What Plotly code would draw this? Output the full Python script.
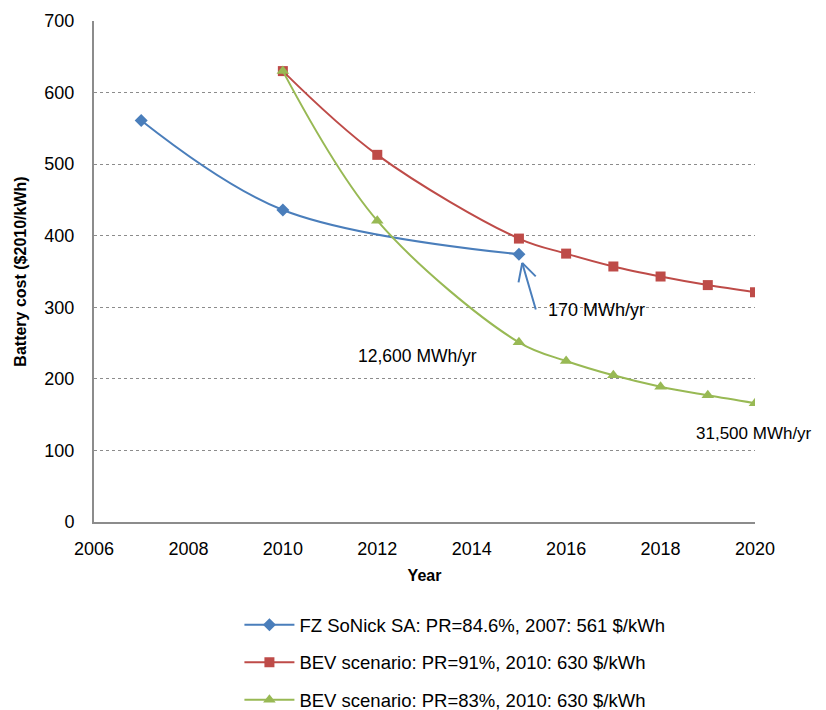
import plotly.graph_objects as go

blue_years = [2007, 2010, 2015]
blue_cost = [561, 436, 374]
red_years = [2010, 2012, 2015, 2016, 2017, 2018, 2019, 2020]
red_cost = [630, 513, 396, 375, 357, 343, 331, 321]
green_years = [2010, 2012, 2015, 2016, 2017, 2018, 2019, 2020]
green_cost = [630, 421, 251, 225, 205, 189, 177, 166]

names = ["FZ SoNick SA: PR=84.6%, 2007: 561 $/kWh",
         "BEV scenario: PR=91%, 2010: 630 $/kWh",
         "BEV scenario: PR=83%, 2010: 630 $/kWh"]
x_ticks = [2006, 2008, 2010, 2012, 2014, 2016, 2018, 2020]
y_ticks = [0, 100, 200, 300, 400, 500, 600, 700]

FONT = "Liberation Sans, Arial, sans-serif"
fig = go.Figure()
fig.add_trace(go.Scatter(x=blue_years, y=blue_cost, name=names[0], legendgroup="a",
                         mode="lines+markers", line=dict(color="#4a7ebb", width=2, shape="spline", smoothing=1),
                         marker=dict(symbol="diamond", size=10, color="#4a7ebb")))
fig.add_trace(go.Scatter(x=red_years, y=red_cost, name=names[1], legendgroup="b",
                         mode="lines+markers", line=dict(color="#be4b48", width=2, shape="spline", smoothing=1),
                         marker=dict(symbol="square", size=10, color="#be4b48")))
fig.add_trace(go.Scatter(x=green_years, y=green_cost, name=names[2], legendgroup="c",
                         mode="lines+markers", line=dict(color="#98b954", width=2, shape="spline", smoothing=1),
                         marker=dict(symbol="triangle-up", size=11, color="#98b954")))

ann = []
ann.append(dict(x=2016.65, y=296, text="170 MWh/yr", showarrow=False, font=dict(size=18, color="black")))
ann.append(dict(x=2012.85, y=232, text="12,600 MWh/yr", showarrow=False, font=dict(size=17.5, color="black")))
ann.append(dict(x=2020, y=124, xshift=-1, text="31,500 MWh/yr", showarrow=False, font=dict(size=17, color="black")))
# arrow (open V head)
tip_x, tip_y = 2015.07, 362
for axo, ayo in [(14, 48), (-4, 21), (15, 15)]:
    ann.append(dict(x=tip_x, y=tip_y, ax=axo, ay=ayo, showarrow=True, arrowhead=0,
                    arrowwidth=2, arrowcolor="#4a7ebb", text="", standoff=0, startstandoff=0))

fig.update_layout(
    width=826, height=730,
    margin=dict(l=86, r=79, t=13, b=216, autoexpand=False),
    paper_bgcolor="white", plot_bgcolor="white",
    font=dict(family=FONT, size=18, color="black"),
    annotations=ann,
    legend=dict(x=0.22, y=-0.168, xanchor="left", yanchor="top", tracegroupgap=10.5,
                itemwidth=50,
                font=dict(size=18.5, color="black"), bgcolor="rgba(0,0,0,0)"),
    showlegend=True,
)
fig.update_xaxes(range=[2006, 2020], tickvals=x_ticks, showgrid=False, zeroline=False,
                 showline=True, linecolor="#8c8c8c", linewidth=2, automargin=False,
                 ticks="outside", ticklen=9, tickcolor="rgba(0,0,0,0)",
                 title=dict(text="<b>Year</b>", font=dict(size=16), standoff=12))
fig.update_yaxes(range=[0, 700], tickvals=y_ticks, showgrid=True, gridcolor="#8c8c8c",
                 griddash="dot", gridwidth=1, zeroline=False, automargin=False,
                 showline=True, linecolor="#8c8c8c", linewidth=2,
                 ticks="outside", ticklen=14, tickcolor="rgba(0,0,0,0)",
                 title=dict(text="<b>Battery cost ($2010/kWh)</b>", font=dict(size=16), standoff=14))

fig.write_html("out.html")
